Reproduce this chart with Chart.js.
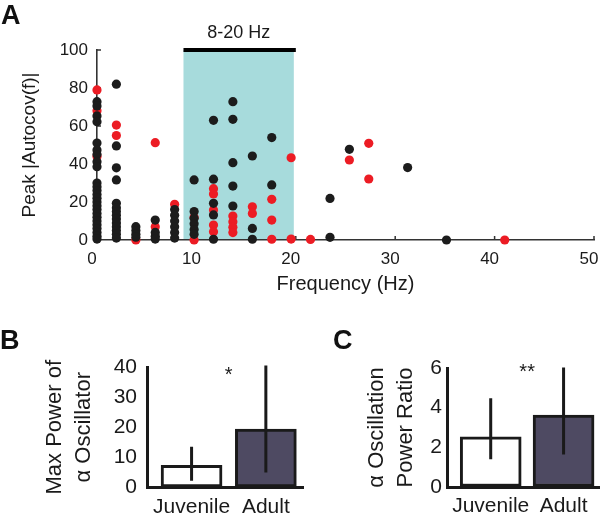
<!DOCTYPE html>
<html>
<head>
<meta charset="utf-8">
<script src="https://cdn.jsdelivr.net/npm/chart.js@4.4.1/dist/chart.umd.min.js"></script>
<style>
    body { margin: 0; background: #ffffff; width: 600px; height: 516px; overflow: hidden; position: relative; }
    canvas { position: absolute; }
    #scatterChart { left: 0; top: 0; width: 600px; height: 300px; }
    #powerChart { left: 0; top: 300px; width: 310px; height: 216px; }
    #ratioChart { left: 310px; top: 300px; width: 290px; height: 216px; }
    .panel { position: absolute; font-family: Arial, "Liberation Sans", sans-serif; font-weight: bold; font-size: 27px; line-height: 27px; color: #111; }
</style>
</head>
<body>
<canvas id="scatterChart" width="600" height="300"></canvas>
<canvas id="powerChart" width="310" height="216"></canvas>
<canvas id="ratioChart" width="290" height="216"></canvas>
<div class="panel" style="left:1px;top:2px">A</div>
<div class="panel" style="left:0px;top:327px">B</div>
<div class="panel" style="left:333px;top:327px">C</div>
<script>
// ==================== DATA ====================
// Panel A: peak autocovariance vs frequency (black and red groups)
const blackFreq = [
    0, 0, 0, 0, 0, 0, 0, 0, 0, 0, 0, 0, 0, 0, 0, 0, 0, 0, 0, 0, 0, 0, 0, 0, 0,
    1.95, 1.95, 1.95, 1.95, 1.95, 1.95, 1.95, 1.95, 1.95, 1.95, 1.95, 1.95, 1.95, 1.95,
    3.91, 3.91, 3.91, 3.91,
    5.86, 5.86, 5.86, 5.86,
    7.81, 7.81, 7.81, 7.81, 7.81, 7.81,
    9.77, 9.77, 9.77, 9.77, 9.77, 9.77,
    11.72, 11.72, 11.72, 11.72, 11.72,
    13.67, 13.67, 13.67, 13.67, 13.67,
    15.63, 15.63, 15.63,
    17.58, 17.58,
    23.44, 23.44,
    25.39,
    31.25,
    35.16
];
const blackPeak = [
    72.8, 70.5, 65.3, 62.3, 51, 47.4, 45, 41.2, 38.6, 30, 28, 26, 24, 22, 20, 18, 16, 14, 12, 10, 8, 6, 4, 2, 0.5,
    82, 49.5, 38, 31.6, 19.3, 17, 15, 13, 11, 9, 7, 5, 3, 1,
    7, 5, 3, 1.5,
    10.5, 4, 2, 0.5,
    16, 13, 10, 7, 4, 1,
    31.6, 15, 11.5, 8.5, 5.5, 3,
    63, 32, 19.3, 13.2, 0.4,
    72.8, 63.5, 40.7, 28.4, 17.9,
    44.2, 6.1, 0.4,
    53.9, 29,
    21.9, 1.4,
    47.7,
    38.1,
    0
];
const redFreq = [
    0, 0, 0,
    1.95, 1.95,
    3.91,
    5.86, 5.86,
    7.81,
    9.77, 9.77,
    11.72, 11.72, 11.72, 11.72, 11.72,
    13.67, 13.67, 13.67, 13.67,
    15.63, 15.63,
    17.58, 17.58, 17.58,
    19.53, 19.53,
    21.48,
    25.39,
    27.34, 27.34,
    41.02
];
const redPeak = [
    79, 68, 43.9,
    60.5, 55,
    0,
    51.2, 7,
    18.8,
    12, 0,
    27, 24.2, 15.8, 7.9, 4.4,
    12.6, 9.6, 6.7, 3.9,
    17.5, 14,
    21.4, 10.5, 0.4,
    43.3, 0.5,
    0.3,
    42.1,
    50.9, 32.1,
    0
];
const bandRange = [8.7, 19.8];
const bandLabel = '8-20 Hz';
const freqTicks = [0, 10, 20, 30, 40, 50];
const peakTicks = [0, 20, 40, 60, 80, 100];

// Panels B and C: juvenile vs adult
const groups = ['Juvenile', 'Adult'];
const powerMean = [7.4, 19.4];
const powerErrLow = [2.2, 5.0];
const powerErrHigh = [13.5, 40.5];
const ratioMean = [2.53, 3.63];
const ratioErrLow = [1.4, 1.64];
const ratioErrHigh = [4.48, 6.03];

// ==================== DEFAULTS ====================
Chart.defaults.font.family = 'Arial, "Liberation Sans", sans-serif';
Chart.defaults.color = '#1e1e1e';
const ink = '#1a1a1a';

// ==================== PANEL A PLUGIN ====================
const bandPlugin = {
    id: 'band',
    beforeDatasetsDraw(chart) {
        const { ctx, scales: { x, y } } = chart;
        const x0 = x.getPixelForValue(bandRange[0]);
        const x1 = x.getPixelForValue(bandRange[1]);
        const yTop = y.getPixelForValue(peakTicks[peakTicks.length - 1]);
        const yBot = y.getPixelForValue(0);
        ctx.save();
        ctx.fillStyle = '#a7dbdc';
        ctx.fillRect(x0, yTop, x1 - x0, yBot - yTop - 1);

        // black bar + label above the band
        ctx.fillStyle = '#000000';
        ctx.fillRect(x0, yTop - 2, x1 - x0 + 2, 4);
        ctx.font = '18px Arial, "Liberation Sans", sans-serif';
        ctx.textAlign = 'center';
        ctx.textBaseline = 'middle';
        ctx.fillStyle = ink;
        ctx.fillText(bandLabel, (x0 + x1) / 2, yTop - 17);

        // inward tick marks
        ctx.strokeStyle = '#333333';
        ctx.lineWidth = 1.5;
        ctx.beginPath();
        freqTicks.slice(1).forEach(v => {
            const px = x.getPixelForValue(v);
            ctx.moveTo(px, yBot);
            ctx.lineTo(px, yBot - 4);
        });
        peakTicks.slice(1).forEach(v => {
            const py = y.getPixelForValue(v);
            ctx.moveTo(x.left, py);
            ctx.lineTo(x.left + 4, py);
        });
        ctx.stroke();
        ctx.restore();
    }
};

// ==================== PANEL A ====================
const scatterCtx = document.getElementById('scatterChart').getContext('2d');
new Chart(scatterCtx, {
    type: 'scatter',
    data: {
        datasets: [
            {
                label: 'black',
                data: blackFreq.map((f, i) => ({ x: f, y: blackPeak[i] })),
                backgroundColor: '#1c1c1c',
                pointRadius: 4.6,
                pointBorderWidth: 0,
                clip: false
            },
            {
                label: 'red',
                data: redFreq.map((f, i) => ({ x: f, y: redPeak[i] })),
                backgroundColor: '#ec1c24',
                pointRadius: 4.6,
                pointBorderWidth: 0,
                clip: false
            }
        ]
    },
    options: {
        responsive: false,
        animation: false,
        events: [],
        layout: { padding: { top: 50, right: 6, left: 0, bottom: 0 } },
        plugins: { legend: { display: false }, tooltip: { enabled: false } },
        scales: {
            x: {
                type: 'linear',
                min: freqTicks[0],
                max: freqTicks[freqTicks.length - 1],
                afterBuildTicks: s => { s.ticks = freqTicks.map(v => ({ value: v })); },
                ticks: { font: { size: 17 }, color: ink, padding: 9, maxRotation: 0, labelOffset: -5 },
                grid: { drawOnChartArea: false, drawTicks: false },
                border: { color: '#333333', width: 1.6 },
                title: {
                    display: true,
                    text: 'Frequency (Hz)',
                    font: { size: 20 },
                    color: ink,
                    padding: { top: 0, bottom: 4 }
                },
                afterFit: s => { s.height = 60; s.paddingLeft = 0; s.paddingRight = 0; }
            },
            y: {
                min: peakTicks[0],
                max: peakTicks[peakTicks.length - 1],
                afterBuildTicks: s => { s.ticks = peakTicks.map(v => ({ value: v })); },
                ticks: { font: { size: 17 }, color: ink, padding: 9 },
                grid: { drawOnChartArea: false, drawTicks: false },
                border: { color: '#333333', width: 1.6 },
                title: {
                    display: true,
                    text: 'Peak |Autocov(f)|',
                    font: { size: 19 },
                    color: ink,
                    padding: { top: 18, bottom: 0 }
                },
                afterFit: s => { s.width = 97; s.paddingTop = 0; s.paddingBottom = 0; }
            }
        }
    },
    plugins: [bandPlugin]
});

// ==================== PANELS B & C ====================
const errorBarPlugin = {
    id: 'errorBars',
    afterDatasetsDraw(chart, args, opts) {
        const { ctx, scales: { x, y } } = chart;
        const meta = chart.getDatasetMeta(0);
        ctx.save();
        ctx.strokeStyle = ink;
        ctx.lineWidth = 3;
        ctx.beginPath();
        meta.data.forEach((bar, i) => {
            ctx.moveTo(bar.x, y.getPixelForValue(opts.low[i]));
            ctx.lineTo(bar.x, y.getPixelForValue(opts.high[i]));
        });
        ctx.stroke();

        ctx.fillStyle = ink;
        ctx.font = '20px Arial, "Liberation Sans", sans-serif';
        ctx.textAlign = 'center';
        ctx.textBaseline = 'middle';
        ctx.fillText(opts.star, x.getPixelForValue(0.5), y.getPixelForValue(opts.starY));
        ctx.restore();
    }
};

function barPanel(canvasId, means, errLow, errHigh, cfg) {
    const ctx = document.getElementById(canvasId).getContext('2d');
    return new Chart(ctx, {
        type: 'bar',
        data: {
            datasets: [{
                data: means.map((v, i) => ({ x: i, y: v })),
                backgroundColor: ['#ffffff', '#4e4a62'],
                borderColor: ink,
                borderWidth: 3,
                borderSkipped: false,
                barThickness: 61
            }]
        },
        options: {
            responsive: false,
            animation: false,
            events: [],
            layout: { padding: { top: cfg.top, right: cfg.right, left: 0, bottom: 0 } },
            plugins: {
                legend: { display: false },
                tooltip: { enabled: false },
                errorBars: { low: errLow, high: errHigh, star: cfg.star, starY: cfg.starY }
            },
            scales: {
                x: {
                    type: 'linear',
                    min: -0.6,
                    max: 1.5,
                    offset: false,
                    afterBuildTicks: s => { s.ticks = groups.map((g, i) => ({ value: i })); },
                    ticks: {
                        callback: v => groups[v],
                        font: { size: 21 },
                        color: ink,
                        padding: 7,
                        maxRotation: 0,
                        minRotation: 0,
                        autoSkip: false
                    },
                    grid: { drawOnChartArea: false, drawTicks: false },
                    border: { color: ink, width: 3 },
                    afterFit: s => { s.height = cfg.xHeight; s.paddingLeft = 0; s.paddingRight = 0; }
                },
                y: {
                    min: 0,
                    max: cfg.yMax,
                    afterBuildTicks: s => {
                        const t = [];
                        for (let v = 0; v <= cfg.yMax; v += cfg.yStep) t.push({ value: v });
                        s.ticks = t;
                    },
                    ticks: { font: { size: 21 }, color: ink, padding: cfg.tickPad },
                    grid: { drawOnChartArea: false, drawTicks: false },
                    border: { color: ink, width: 3 },
                    title: {
                        display: true,
                        text: cfg.title,
                        font: { size: 22, lineHeight: 1.3 },
                        color: ink,
                        padding: { top: cfg.titlePad, bottom: 0 }
                    },
                    afterFit: s => { s.width = cfg.yWidth; s.paddingTop = 0; s.paddingBottom = 0; }
                }
            }
        },
        plugins: [errorBarPlugin]
    });
}

barPanel('powerChart', powerMean, powerErrLow, powerErrHigh, {
    top: 67, right: 7, xHeight: 28.5, yWidth: 147, yMax: 40, yStep: 10, tickPad: 10,
    title: ['Max Power of', '\u03b1 Oscillator'], titlePad: 41, star: '*', starY: 37.2
});

barPanel('ratioChart', ratioMean, ratioErrLow, ratioErrHigh, {
    top: 68, right: 0, xHeight: 29, yWidth: 137, yMax: 6, yStep: 2, tickPad: 5,
    title: ['\u03b1 Oscillation', 'Power Ratio'], titlePad: 53, star: '**', starY: 5.76
});
</script>
</body>
</html>
